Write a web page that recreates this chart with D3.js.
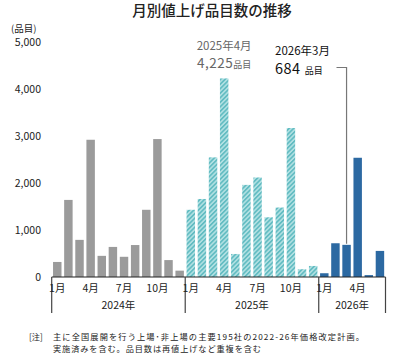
<!DOCTYPE html>
<html>
<head>
<meta charset="utf-8">
<script src="https://cdn.jsdelivr.net/npm/d3@7"></script>
<style>
  body { margin: 0; background: #fff; }
  svg { display: block; font-family: "Noto Sans CJK JP", "Noto Sans", sans-serif; }
</style>
</head>
<body>
<div id="chart"></div>
<script>
// monthly counts
const values2024 = [320, 1640, 790, 2920, 450, 640, 430, 680, 1430, 2935, 360, 135];
const values2025 = [1430, 1660, 2545, 4225, 490, 1960, 2117, 1270, 1478, 3170, 165, 235];
const values2026 = [80, 718, 684, 2537, 40, 555];
const years = ["2024年", "2025年", "2026年"];
const yTicks = [0, 1000, 2000, 3000, 4000, 5000];
const monthLabels = ["1月", "4月", "7月", "10月"];

const width = 405, height = 353;
const margin = { left: 51.7, right: 19.5, top: 42, bottom: 76 };

const data = [];
[values2024, values2025, values2026].forEach((vals, yi) => {
    vals.forEach((v, mi) => data.push({ year: yi, month: mi + 1, value: v, key: `${yi}-${mi + 1}` }));
});

const svg = d3.select("#chart").append("svg")
    .attr("width", width)
    .attr("height", height);

// hatch pattern for 2025 bars
const defs = svg.append("defs");
const pat = defs.append("pattern")
    .attr("id", "hatch")
    .attr("patternUnits", "userSpaceOnUse")
    .attr("width", 3.2)
    .attr("height", 3.2)
    .attr("patternTransform", "rotate(45)");
pat.append("rect").attr("width", 3.2).attr("height", 3.2).attr("fill", "#b4e2e4");
pat.append("rect").attr("width", 1.7).attr("height", 3.2).attr("fill", "#63bcc2");

const x = d3.scaleBand()
    .domain(data.map(d => d.key))
    .range([margin.left, width - margin.right])
    .paddingInner(0.24)
    .paddingOuter(0.12);

const y = d3.scaleLinear()
    .domain([0, 5000])
    .range([height - margin.bottom, margin.top]);

const colors = ["#9b9b9b", "url(#hatch)", "#2c69a2"];

// title
svg.append("text")
    .attr("x", 212).attr("y", 16)
    .attr("text-anchor", "middle")
    .style("font-size", "14.5px")
    .style("font-weight", "500")
    .attr("fill", "#222")
    .text("月別値上げ品目数の推移");

svg.append("text")
    .attr("x", 11).attr("y", 32)
    .style("font-size", "9.5px")
    .attr("fill", "#222")
    .text("(品目)");

// y tick labels (no gridlines)
svg.append("g").selectAll("text")
    .data(yTicks)
    .enter().append("text")
    .attr("x", 41)
    .attr("y", d => y(d))
    .attr("dy", "0.35em")
    .attr("text-anchor", "end")
    .style("font-size", "10.5px")
    .attr("fill", "#222")
    .text(d => d3.format(",")(d));

// bars
svg.append("g").selectAll("rect")
    .data(data)
    .enter().append("rect")
    .attr("x", d => x(d.key))
    .attr("y", d => y(d.value))
    .attr("width", x.bandwidth())
    .attr("height", d => y(0) - y(d.value))
    .attr("fill", d => colors[d.year]);

// x axis baseline
const base = y(0);
const step = x.step();
const x0 = margin.left, x1 = width - margin.right;
svg.append("line")
    .attr("x1", x0).attr("x2", x1)
    .attr("y1", base).attr("y2", base)
    .attr("stroke", "#222").attr("stroke-width", 1.2);

// year separators
const yearStarts = [0, 12, 24, 30];
svg.append("g").selectAll("line")
    .data(yearStarts)
    .enter().append("line")
    .attr("x1", d => x0 + d * step)
    .attr("x2", d => x0 + d * step)
    .attr("y1", base)
    .attr("y2", base + 36)
    .attr("stroke", "#444")
    .attr("stroke-width", 1.2);

// month labels
const monthData = data.filter(d => [1, 4, 7, 10].includes(d.month));
svg.append("g").selectAll("text")
    .data(monthData)
    .enter().append("text")
    .attr("x", d => x(d.key) + x.bandwidth() / 2)
    .attr("y", base + 15)
    .attr("text-anchor", "middle")
    .style("font-size", "10.5px")
    .attr("fill", "#222")
    .text(d => monthLabels[[1, 4, 7, 10].indexOf(d.month)]);

// year labels
svg.append("g").selectAll("text")
    .data(years)
    .enter().append("text")
    .attr("x", (d, i) => x0 + (yearStarts[i] + yearStarts[i + 1]) / 2 * step)
    .attr("y", base + 32)
    .attr("text-anchor", "middle")
    .style("font-size", "10.5px")
    .attr("fill", "#222")
    .text(d => d);

// annotation 2025年4月
const apr25 = data.find(d => d.key === "1-4");
const aprX = x(apr25.key) + x.bandwidth() / 2;
svg.append("text")
    .attr("x", aprX).attr("y", 50)
    .attr("text-anchor", "middle")
    .style("font-size", "11.5px")
    .attr("fill", "#666")
    .text("2025年4月");
const lbl = svg.append("text")
    .attr("x", aprX).attr("y", 68)
    .attr("text-anchor", "middle")
    .attr("fill", "#666");
lbl.append("tspan").style("font-size", "13.5px").style("letter-spacing", "0.5px").text(d3.format(",")(apr25.value));
lbl.append("tspan").style("font-size", "9px").text("品目");

// annotation 2026年3月
const mar26 = data.find(d => d.key === "2-3");
const marX = x(mar26.key) + x.bandwidth() / 2;
svg.append("text")
    .attr("x", 275).attr("y", 55)
    .style("font-size", "11.5px")
    .attr("fill", "#111")
    .text("2026年3月");
const lbl2 = svg.append("text")
    .attr("x", 275).attr("y", 74)
    .attr("fill", "#111");
lbl2.append("tspan").style("font-size", "14.5px").style("letter-spacing", "0.5px").text(mar26.value);
lbl2.append("tspan").style("font-size", "9px").attr("dx", 4).text("品目");

svg.append("path")
    .attr("d", `M${336.5},${67.5}H${marX}V${y(mar26.value) - 1}`)
    .attr("fill", "none")
    .attr("stroke", "#777")
    .attr("stroke-width", 1.2);

// footnote
svg.append("text")
    .attr("x", 29).attr("y", 339.5)
    .style("font-size", "8.2px")
    .attr("fill", "#222")
    .text("[注]");
svg.append("text")
    .attr("x", 53).attr("y", 339.5)
    .attr("textLength", 311)
    .attr("lengthAdjust", "spacing")
    .style("font-size", "8.2px")
    .attr("fill", "#222")
    .text("主に全国展開を行う上場･非上場の主要195社の2022-26年価格改定計画。");
svg.append("text")
    .attr("x", 53).attr("y", 351.5)
    .attr("textLength", 208)
    .attr("lengthAdjust", "spacing")
    .style("font-size", "8.2px")
    .attr("fill", "#222")
    .text("実施済みを含む。品目数は再値上げなど重複を含む");
</script>
</body>
</html>
